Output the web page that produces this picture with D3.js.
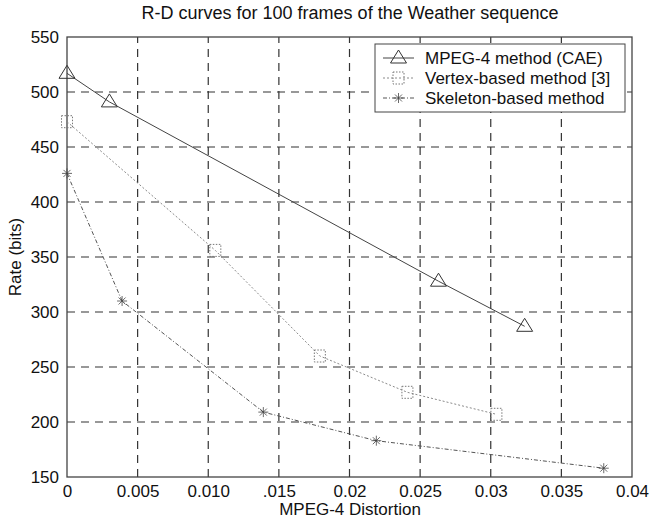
<!DOCTYPE html>
<html>
<head>
<meta charset="utf-8">
<script src="https://cdn.jsdelivr.net/npm/d3@7"></script>
<style>
  body { margin: 0; background: #fff; }
  text { font-family: "Liberation Sans", Arial, sans-serif; fill: #111; }
</style>
</head>
<body>
<div id="chart"></div>
<script>
// values
var xTicks = [0, 0.005, 0.010, 0.015, 0.02, 0.025, 0.03, 0.035, 0.04];
var xTickLabels = ["0", "0.005", "0.010", ".015", "0.02", "0.025", "0.03", "0.035", "0.04"];
var yTicks = [150, 200, 250, 300, 350, 400, 450, 500, 550];

var seriesNames = ["MPEG-4 method (CAE)", "Vertex-based method [3]", "Skeleton-based method"];
var mpegX = [0, 0.003, 0.0263, 0.0324];
var mpegY = [517, 491, 328, 287];
var vertexX = [0, 0.0105, 0.0179, 0.0241, 0.0304];
var vertexY = [473, 356, 260, 227, 207];
var skelX = [0, 0.0039, 0.0139, 0.0219, 0.038];
var skelY = [426, 310, 209, 183, 158];

var width = 650, height = 519;
var margin = {left: 67, right: 18, top: 37, bottom: 42};

var svg = d3.select("#chart").append("svg")
    .attr("width", width)
    .attr("height", height);

var x = d3.scaleLinear().domain([0, 0.04]).range([margin.left, width - margin.right]);
var y = d3.scaleLinear().domain([150, 550]).range([height - margin.bottom, margin.top]);

// grid
svg.append("g").selectAll("line").data(xTicks.slice(1, -1)).enter().append("line")
    .attr("x1", function(d) { return x(d); })
    .attr("x2", function(d) { return x(d); })
    .attr("y1", y(150)).attr("y2", y(550))
    .attr("stroke", "#333").attr("stroke-width", 1.2)
    .attr("stroke-dasharray", "8,6");

svg.append("g").selectAll("line").data(yTicks.slice(1, -1)).enter().append("line")
    .attr("y1", function(d) { return y(d); })
    .attr("y2", function(d) { return y(d); })
    .attr("x1", x(0)).attr("x2", x(0.04))
    .attr("stroke", "#333").attr("stroke-width", 1.2)
    .attr("stroke-dasharray", "8,6");

// frame
svg.append("rect")
    .attr("x", x(0)).attr("y", y(550))
    .attr("width", x(0.04) - x(0)).attr("height", y(150) - y(550))
    .attr("fill", "none").attr("stroke", "#444").attr("stroke-width", 1.3);

// axes
var xAxis = d3.axisBottom(x).tickValues(xTicks)
    .tickFormat(function(d, i) { return xTickLabels[i]; })
    .tickSize(0).tickPadding(8);
var gx = svg.append("g").attr("transform", "translate(0," + y(150) + ")").call(xAxis);
gx.select(".domain").remove();
gx.selectAll("text").style("font-size", "17px").attr("fill", "#111");

var yAxis = d3.axisLeft(y).tickValues(yTicks).tickSize(0).tickPadding(8);
var gy = svg.append("g").attr("transform", "translate(" + x(0) + ",0)").call(yAxis);
gy.select(".domain").remove();
gy.selectAll("text").style("font-size", "17px").attr("fill", "#111");

// titles
svg.append("text").attr("x", 350).attr("y", 19)
    .attr("text-anchor", "middle").style("font-size", "18px")
    .text("R-D curves for 100 frames of the Weather sequence");
svg.append("text").attr("x", 350).attr("y", 515)
    .attr("text-anchor", "middle").style("font-size", "17px")
    .text("MPEG-4 Distortion");
svg.append("text").attr("transform", "translate(21," + y(350) + ") rotate(-90)")
    .attr("text-anchor", "middle").style("font-size", "17px")
    .text("Rate (bits)");

// curves
function pts(xs, ys) {
    return xs.map(function(d, i) { return [d, ys[i]]; });
}
var line = d3.line()
    .x(function(d) { return x(d[0]); })
    .y(function(d) { return y(d[1]); });

var styles = [
    {color: "#444", dash: null, width: 1},
    {color: "#8a8a8a", dash: "2,2", width: 1},
    {color: "#555", dash: "4,2,1,2", width: 1}
];
var data = [pts(mpegX, mpegY), pts(vertexX, vertexY), pts(skelX, skelY)];

data.forEach(function(d, i) {
    svg.append("path").datum(d)
        .attr("d", line)
        .attr("fill", "none")
        .attr("stroke", styles[i].color)
        .attr("stroke-width", styles[i].width)
        .attr("stroke-dasharray", styles[i].dash);
});

function marker(g, kind, cx, cy) {
    if (kind == 0) {
        g.append("path")
            .attr("d", "M" + cx + "," + (cy - 8) + "L" + (cx + 8) + "," + (cy + 5) + "L" + (cx - 8) + "," + (cy + 5) + "Z")
            .attr("fill", "none").attr("stroke", "#333").attr("stroke-width", 1);
    } else if (kind == 1) {
        g.append("rect")
            .attr("x", cx - 5.5).attr("y", cy - 6).attr("width", 11).attr("height", 12)
            .attr("fill", "none").attr("stroke", "#777").attr("stroke-width", 1)
            .attr("stroke-dasharray", "1.5,1.5");
    } else {
        g.append("path")
            .attr("d", "M" + (cx - 5) + "," + cy + "H" + (cx + 5) +
                "M" + cx + "," + (cy - 5) + "V" + (cy + 5) +
                "M" + (cx - 3.5) + "," + (cy - 3.5) + "L" + (cx + 3.5) + "," + (cy + 3.5) +
                "M" + (cx + 3.5) + "," + (cy - 3.5) + "L" + (cx - 3.5) + "," + (cy + 3.5))
            .attr("stroke", "#444").attr("stroke-width", 0.8);
    }
}

var gm = svg.append("g");
data.forEach(function(d, i) {
    d.forEach(function(p) { marker(gm, i, x(p[0]), y(p[1])); });
});

// legend
var lg = svg.append("g");
lg.append("rect").attr("x", 375).attr("y", 44).attr("width", 250).attr("height", 68)
    .attr("fill", "#fff").attr("stroke", "#444").attr("stroke-width", 1);
seriesNames.forEach(function(name, i) {
    var ly = 58 + i * 20;
    lg.append("line").attr("x1", 383).attr("x2", 414).attr("y1", ly).attr("y2", ly)
        .attr("stroke", styles[i].color).attr("stroke-width", 1)
        .attr("stroke-dasharray", styles[i].dash);
    marker(lg, i, 398.5, ly);
    lg.append("text").attr("x", 425).attr("y", ly + 6)
        .style("font-size", "17px").text(name);
});
</script>
</body>
</html>
